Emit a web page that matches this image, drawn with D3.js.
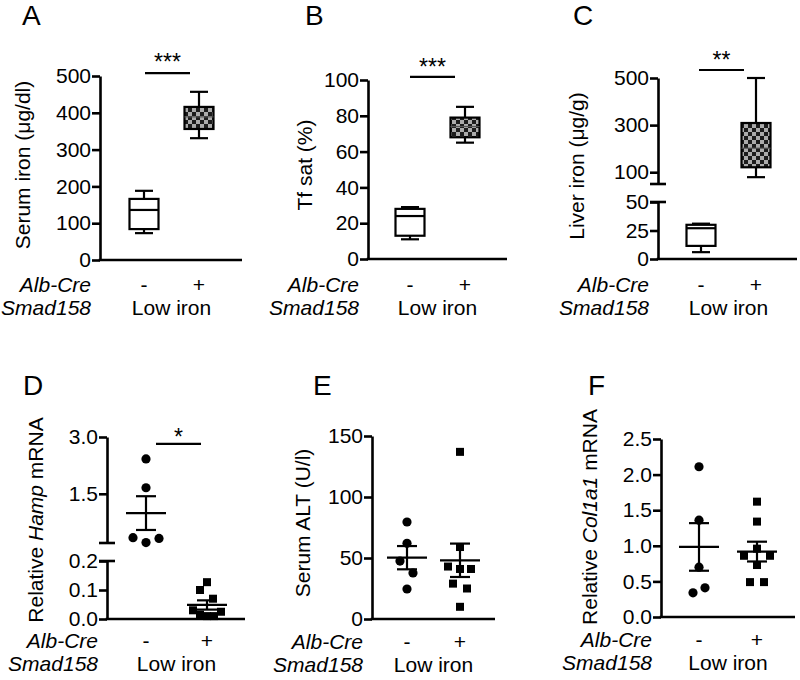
<!DOCTYPE html>
<html>
<head>
<meta charset="utf-8">
<script src="https://cdn.jsdelivr.net/npm/d3@7"></script>
<style>
  html, body { margin: 0; padding: 0; background: #fff; }
  svg { display: block; }
</style>
</head>
<body>
<svg id="chart" width="800" height="680"></svg>
<script>
// ---------------- DATA ----------------
const groups = ["-", "+"];
// box plots: [min, q1, median, q3, max]
const serumIronNeg = [73, 84, 136, 166, 188];
const serumIronPos = [331, 356, 389, 416, 457];
const tfSatNeg = [11, 13, 24, 28, 29];
const tfSatPos = [65, 68, 74, 79, 85];
const liverIronNeg = [6, 11.5, 27, 30, 31];
const liverIronPos = [79, 121, 202, 309, 500];
// scatter (individual animals)
const hampNeg = [2.42, 1.66, 0.34, 0.21, 0.32];
const hampPos = [0.127, 0.10, 0.07, 0.03, 0.025, 0.015, 0.01, 0.01];
const altNeg = [79.5, 62, 47.5, 37.7, 24.6];
const altPos = [137, 59, 43, 41, 41, 29, 25, 10];
const col1a1Neg = [2.11, 1.36, 0.70, 0.41, 0.34];
const col1a1Pos = [1.62, 1.34, 0.96, 0.86, 0.86, 0.73, 0.49, 0.49];
// tick labels
const ticksA = [0, 100, 200, 300, 400, 500];
const ticksB = [0, 20, 40, 60, 80, 100];
const ticksCLow = [0, 25, 50];
const ticksCHigh = [100, 300, 500];
const ticksDLow = [0.0, 0.1, 0.2];
const ticksDHigh = [1.5, 3.0];
const ticksE = [0, 50, 100, 150];
const ticksF = [0.0, 0.5, 1.0, 1.5, 2.0, 2.5];
// significance
const sigA = "***", sigB = "***", sigC = "**", sigD = "*";
const rowLabel1 = "Alb-Cre", rowLabel2 = "Smad158", condition = "Low iron";

// ---------------- DRAWING ----------------
const FONT = "'Liberation Sans', Arial, Helvetica, sans-serif";
const svg = d3.select("#chart");
const defs = svg.append("defs");
const pat = defs.append("pattern").attr("id", "checker")
  .attr("patternUnits", "userSpaceOnUse").attr("width", 8).attr("height", 8);
pat.append("rect").attr("width", 8).attr("height", 8).attr("fill", "#ababab");
pat.append("rect").attr("width", 4).attr("height", 4).attr("fill", "#1c1c1c");
pat.append("rect").attr("x", 4).attr("y", 4).attr("width", 4).attr("height", 4).attr("fill", "#1c1c1c");

const TICK_FS = 21, LABEL_FS = 21, STAR_FS = 23;

function panel(cfg) {
  const g = svg.append("g");
  const segs = cfg.segments.map(s => Object.assign({}, s, {
    y: d3.scaleLinear().domain(s.domain).range(s.range)
  }));
  const yv = v => {
    if (segs.length === 1) return segs[0].y(v);
    return v > segs[0].domain[1] ? segs[1].y(v) : segs[0].y(v);
  };
  const x = d3.scalePoint().domain(groups).range([cfg.axisX + cfg.c1, cfg.axisX + cfg.c2]);
  const baseY = segs[0].range[0];

  segs.forEach((s, i) => {
    const ax = g.append("g").attr("transform", `translate(${cfg.axisX},0)`)
      .call(d3.axisLeft(s.y).tickValues(s.ticks).tickFormat(cfg.fmt)
        .tickSize(8).tickSizeOuter(0).tickPadding(1));
    ax.select(".domain").attr("stroke", "#000").attr("stroke-width", 2.6);
    ax.selectAll(".tick line").attr("stroke", "#000").attr("stroke-width", 2.6);
    ax.selectAll(".tick text").attr("fill", "#000")
      .style("font-family", FONT).style("font-size", TICK_FS + "px");
    if (segs.length > 1) {
      const yb = i === 0 ? s.range[1] : s.range[0];
      g.append("line").attr("x1", cfg.axisX - 8).attr("x2", cfg.axisX + 8)
        .attr("y1", yb).attr("y2", yb).attr("stroke", "#000").attr("stroke-width", 2.6);
    }
  });
  g.append("line").attr("x1", cfg.axisX - 1.3).attr("x2", cfg.right)
    .attr("y1", baseY).attr("y2", baseY).attr("stroke", "#000").attr("stroke-width", 2.6);

  g.append("text").attr("x", cfg.letterX).attr("y", cfg.letterY).text(cfg.letter)
    .style("font-family", FONT).style("font-size", "28px");

  const yl = g.append("text")
    .attr("transform", `translate(${cfg.ylx},${cfg.yly}) rotate(-90)`)
    .attr("text-anchor", "middle")
    .style("font-family", FONT).style("font-size", LABEL_FS + "px");
  cfg.ylabel.forEach(p => yl.append("tspan").text(p[0]).style("font-style", p[1] ? "italic" : "normal"));

  const tx = (xx, yy, t, anchor, italic) => g.append("text").attr("x", xx).attr("y", yy)
    .attr("text-anchor", anchor).text(t).style("font-family", FONT)
    .style("font-size", LABEL_FS + "px").style("font-style", italic ? "italic" : "normal");
  tx(cfg.axisX - 9, cfg.row1, rowLabel1, "end", true);
  tx(cfg.axisX - 9, cfg.row2, rowLabel2, "end", true);
  tx(x(groups[0]), cfg.row1, groups[0], "middle", false);
  tx(x(groups[1]), cfg.row1, groups[1], "middle", false);
  tx((x(groups[0]) + x(groups[1])) / 2, cfg.row2, condition, "middle", false);

  if (cfg.boxes) {
    cfg.boxes.forEach((b, i) => {
      const xc = x(groups[i]);
      const [mn, q1, md, q3, mx] = b;
      const line = (x1, y1, x2, y2) => g.append("line").attr("x1", x1).attr("y1", y1)
        .attr("x2", x2).attr("y2", y2).attr("stroke", "#000").attr("stroke-width", 2.2);
      line(xc, yv(q3), xc, yv(mx));
      line(xc, yv(q1), xc, yv(mn));
      line(xc - 9, yv(mx), xc + 9, yv(mx));
      line(xc - 9, yv(mn), xc + 9, yv(mn));
      g.append("rect").attr("x", xc - 14.5).attr("width", 29)
        .attr("y", yv(q3)).attr("height", yv(q1) - yv(q3))
        .attr("fill", i === 1 ? "url(#checker)" : "#fff")
        .attr("stroke", "#000").attr("stroke-width", 2.2);
      line(xc - 14.5, yv(md), xc + 14.5, yv(md)).attr("stroke-width", i === 1 ? 1.2 : 2.2)
        .attr("stroke", i === 1 ? "#555" : "#000");
    });
  }
  if (cfg.points) {
    cfg.points.forEach((vals, i) => {
      const xc = x(groups[i]);
      const off = cfg.jitter[i];
      vals.forEach((v, k) => {
        const px = xc + off[k], py = yv(v);
        if (i === 0) g.append("circle").attr("cx", px).attr("cy", py).attr("r", 4.6).attr("fill", "#000");
        else g.append("rect").attr("x", px - 4).attr("y", py - 4).attr("width", 8).attr("height", 8).attr("fill", "#000");
      });
      const m = d3.mean(vals);
      const sem = d3.deviation(vals) / Math.sqrt(vals.length);
      const line = (x1, y1, x2, y2) => g.append("line").attr("x1", x1).attr("y1", y1)
        .attr("x2", x2).attr("y2", y2).attr("stroke", "#000").attr("stroke-width", 2.2);
      line(xc - 20, yv(m), xc + 20, yv(m));
      line(xc, yv(m - sem), xc, yv(m + sem));
      line(xc - 10, yv(m - sem), xc + 10, yv(m - sem));
      line(xc - 10, yv(m + sem), xc + 10, yv(m + sem));
    });
  }
  if (cfg.sig) {
    const mid = (x(groups[0]) + x(groups[1])) / 2 + cfg.sig.dx;
    const yy = yv(cfg.sig.v);
    g.append("line").attr("x1", mid - 22.5).attr("x2", mid + 22.5).attr("y1", yy).attr("y2", yy)
      .attr("stroke", "#000").attr("stroke-width", 2.2);
    g.append("text").attr("x", mid).attr("y", yy + cfg.sig.dy).attr("text-anchor", "middle")
      .text(cfg.sig.t).style("font-family", FONT).style("font-size", STAR_FS + "px");
  }
}

const fmt0 = d3.format("d"), fmt1 = d3.format(".1f");

panel({ letter: "A", letterX: 22, letterY: 25, axisX: 100, right: 242, c1: 44, c2: 99,
  segments: [{ domain: [0, 500], range: [260, 76], ticks: ticksA }], fmt: fmt0,
  ylabel: [["Serum iron (μg/dl)", false]], ylx: 30, yly: 165,
  row1: 292, row2: 315, boxes: [serumIronNeg, serumIronPos],
  sig: { v: 508, dx: -4, dy: -3, t: sigA } });

panel({ letter: "B", letterX: 305, letterY: 25, axisX: 368, right: 507, c1: 42, c2: 97,
  segments: [{ domain: [0, 100], range: [259, 80], ticks: ticksB }], fmt: fmt0,
  ylabel: [["Tf sat (%)", false]], ylx: 312, yly: 165,
  row1: 292, row2: 315, boxes: [tfSatNeg, tfSatPos],
  sig: { v: 101.7, dx: -5, dy: -2, t: sigB } });

panel({ letter: "C", letterX: 573, letterY: 25, axisX: 658, right: 797, c1: 43, c2: 98,
  segments: [{ domain: [0, 50], range: [259, 202], ticks: ticksCLow },
             { domain: [50, 500], range: [184, 78], ticks: ticksCHigh }], fmt: fmt0,
  ylabel: [["Liver iron (μg/g)", false]], ylx: 584, yly: 166,
  row1: 292, row2: 315, boxes: [liverIronNeg, liverIronPos],
  sig: { v: 534, dx: -7, dy: -2, t: sigC } });

panel({ letter: "D", letterX: 23, letterY: 395, axisX: 107, right: 245, c1: 39, c2: 100,
  segments: [{ domain: [0, 0.2], range: [619, 561], ticks: ticksDLow },
             { domain: [0.2, 3.0], range: [543, 437], ticks: ticksDHigh }], fmt: fmt1,
  ylabel: [["Relative ", false], ["Hamp", true], [" mRNA", false]], ylx: 43, yly: 520,
  row1: 648, row2: 671, points: [hampNeg, hampPos],
  jitter: [[0, 0, -13, 0, 13], [0, -7, 6, -14, 14, -7, 7, 0]],
  sig: { v: 2.82, dx: 2, dy: 1, t: sigD } });

panel({ letter: "E", letterX: 313, letterY: 395, axisX: 372, right: 495, c1: 35, c2: 88,
  segments: [{ domain: [0, 150], range: [619, 436], ticks: ticksE }], fmt: fmt0,
  ylabel: [["Serum ALT (U/l)", false]], ylx: 310, yly: 523,
  row1: 649, row2: 672, points: [altNeg, altPos],
  jitter: [[0, 0, -7, 6, 0], [0, 0, -12, 0, 11, -7, 7, 0]] });

panel({ letter: "F", letterX: 588, letterY: 395, axisX: 661, right: 795, c1: 38, c2: 96,
  segments: [{ domain: [0, 2.5], range: [617, 439], ticks: ticksF }], fmt: fmt1,
  ylabel: [["Relative ", false], ["Col1a1", true], [" mRNA", false]], ylx: 597, yly: 517,
  row1: 647, row2: 670, points: [col1a1Neg, col1a1Pos],
  jitter: [[0, 0, 0, 6, -6], [0, 0, 0, -13, 13, 0, -7, 7]] });
</script>
</body>
</html>
